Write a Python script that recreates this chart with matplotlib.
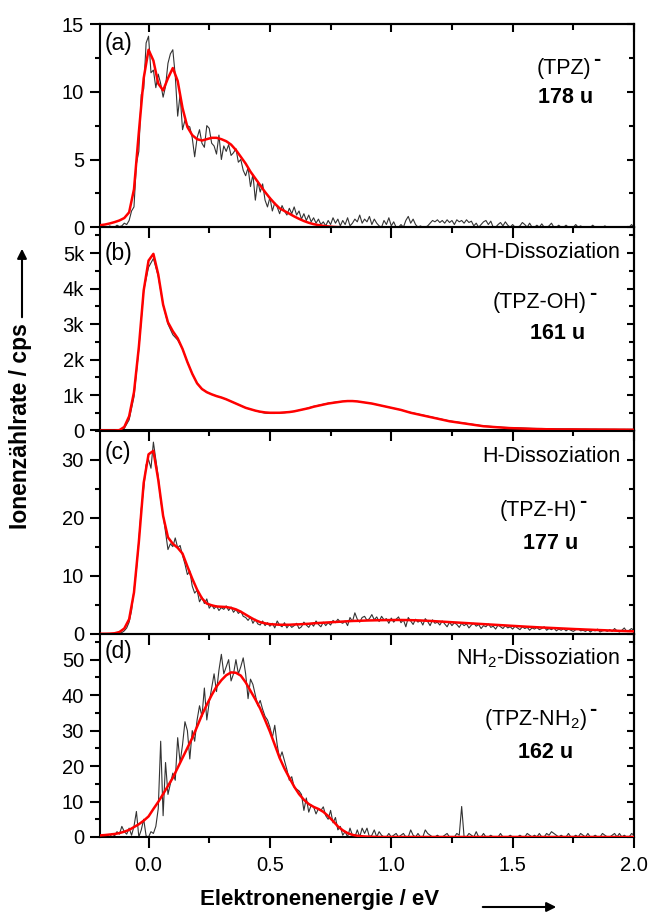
import numpy as np
import matplotlib
matplotlib.use("Agg")
import matplotlib.pyplot as plt
from matplotlib.ticker import MultipleLocator, FuncFormatter

plt.rcParams['font.family'] = ['Liberation Sans', 'DejaVu Sans']
plt.rcParams['mathtext.fontset'] = 'custom'
plt.rcParams['mathtext.rm'] = 'Liberation Sans'
plt.rcParams['mathtext.it'] = 'Liberation Sans:italic'
plt.rcParams['mathtext.bf'] = 'Liberation Sans:bold'

# ---------------- data ----------------
# measured data: energy grid -0.20 ... 2.00 eV, step 0.01 eV (221 points)
x_data = np.round(np.arange(221) * 0.01 - 0.20, 2)
# fitted curves: energy grid -0.20 ... 2.00 eV, step 0.02 eV (111 points)
x_fit = np.round(np.arange(111) * 0.02 - 0.20, 2)

data_a = [
    0, 0, 0.05, 0, 0.1, 0, 0, 0.15, 0.05, 0.1,
    0.3, 0.2, 0.5, 1.2, 1.5, 4.7, 5.6, 9.8, 10.2, 13.6,
    14.1, 11.4, 11.6, 10.3, 11.3, 10.6, 9.6, 10.4, 12.1, 12.8,
    13.1, 11.2, 8.2, 9.8, 7.2, 7.9, 7.5, 7.4, 6.6, 5.2,
    6.6, 7.2, 6.2, 5.9, 7.5, 7.3, 6.2, 6.0, 5.4, 6.8,
    5.0, 6.0, 5.6, 6.1, 5.3, 5.5, 5.8, 4.8, 5.0, 4.2,
    3.8, 4.4, 3.0, 3.9, 2.0, 3.4, 2.6, 3.2, 2.0, 1.5,
    2.2, 1.2, 1.8, 1.5, 1.0, 1.6, 1.2, 0.9, 1.4, 1.0,
    1.5, 0.9, 1.2, 0.6, 1.0, 0.5, 0.9, 0.4, 0.7, 0.3,
    0.6, 0.2, 0.4, 0.1, 0.5, 0.2, 0.7, 0.3, 0.6, 0.1,
    0.5, 0.2, 0.7, 0.1, 0.3, 0.6, 0.4, 0.9, 0.3, 0.6,
    0.4, 0.8, 0.2, 0.6, 0.3, 0.1, 0.0, 0.5, 0.2, 0.7,
    0.1, 0.4, 0.0, 0.0, 0.2, 0.0, 0.5, 0.8, 0.3, 0.6,
    0.2, 0.0, 0.1, 0.0, 0.0, 0.1, 0.3, 0.5, 0.4, 0.55,
    0.35, 0.5, 0.3, 0.55, 0.35, 0.5, 0.2, 0.55, 0.4, 0.5,
    0.3, 0.55, 0.35, 0.45, 0.1, 0.3, 0.0, 0.2, 0.4, 0.5,
    0.2, 0.45, 0.0, 0.0, 0.2, 0.35, 0.1, 0.4, 0.15, 0.0,
    0.2, 0.0, 0.0, 0.1, 0.35, 0.2, 0.0, 0.3, 0.0, 0.0,
    0.15, 0.0, 0.25, 0.0, 0.0, 0.1, 0.3, 0.0, 0.0, 0.15,
    0.0, 0.0, 0.15, 0.0, 0.0, 0.0, 0.2, 0.0, 0.1, 0.0,
    0.0, 0.0, 0.0, 0.15, 0.0, 0.0, 0.0, 0.0, 0.1, 0.0,
    0.0, 0.0, 0.0, 0.0, 0.0, 0.0, 0.0, 0.0, 0.0, 0.2,
    0.0,
]
fit_a = [
    0.15, 0.2, 0.28, 0.38, 0.5, 0.68, 1.1, 2.8, 7.0, 11.0,
    13.1, 12.3, 10.6, 10.1, 11.0, 11.75, 10.8, 8.8, 7.4, 6.8,
    6.5, 6.4, 6.5, 6.6, 6.6, 6.5, 6.35, 6.1, 5.7, 5.2,
    4.7, 4.1, 3.6, 3.1, 2.6, 2.15, 1.75, 1.4, 1.2, 1.0,
    0.8, 0.62, 0.46, 0.33, 0.23, 0.16, 0.1, 0.06, 0.03, 0.01,
] + [0.0] * 61

data_b = [
    0, 0, 0, 0, 0, 60, 300, 950, 2300, 3950,
    4600, 4850, 4350, 3550, 3000, 2700, 2550, 2300, 1930, 1600,
    1330, 1170, 1080, 1020, 970, 930, 880, 820, 760, 700,
    640, 600, 560, 520, 490, 480, 480, 490, 500, 520,
    540, 570, 600, 640, 680, 710, 740, 770, 790, 810,
    820, 830, 830, 820, 800, 780, 760, 730, 700, 670,
    640, 610, 580, 540, 510, 480, 450, 420, 390, 360,
    330, 300, 270, 250, 230, 210, 190, 170, 150, 130,
    120, 110, 100, 90, 85, 80, 75, 70, 65, 60,
    58, 55, 52, 50, 48, 46, 45, 44, 42, 40,
    40, 38, 38, 36, 36, 35, 35, 34, 34, 33,
    32,
]
fit_b = [
    0, 0, 0, 0, 10, 100, 400, 1080, 2350, 3950,
    4790, 4980, 4400, 3550, 3050, 2800, 2600, 2300, 1930, 1600,
    1330, 1170, 1080, 1020, 970, 930, 880, 820, 760, 700,
    640, 600, 560, 530, 510, 500, 500, 500, 510, 520,
    540, 570, 600, 630, 670, 700, 730, 760, 780, 800,
    820, 830, 830, 820, 800, 780, 760, 730, 700, 670,
    640, 610, 580, 540, 500, 470, 440, 410, 380, 350,
    320, 290, 260, 240, 220, 200, 180, 160, 140, 120,
    110, 100, 90, 80, 70, 65, 60, 55, 50, 45,
    40, 40, 35, 35, 30, 30, 30, 30, 30, 28,
    28, 26, 26, 25, 25, 24, 24, 22, 22, 20,
    20,
]

data_c = [
    0, 0, 0, 0, 0, 0, 0, 0, 0.1, 0.2,
    0.5, 1.0, 2.0, 4.0, 7.5, 11.0, 16.0, 21.5, 25.0, 29.1,
    30.0, 28.5, 33.0, 30.0, 27.0, 23.0, 20.5, 17.5, 14.5, 15.5,
    15.0, 16.5, 14.8, 15.2, 13.5, 12.0, 10.2, 10.8, 8.2, 7.0,
    7.5, 5.5, 6.3, 5.2, 6.0, 4.4, 5.0, 4.3, 4.8, 4.0,
    4.5, 4.2, 4.8, 4.0, 4.6, 3.7, 4.2, 3.5, 3.9, 3.0,
    2.8, 2.3, 2.9, 1.8, 2.5, 1.7, 1.5, 2.2, 1.4, 1.9,
    1.3, 1.8, 1.0, 2.2, 1.5, 1.2, 1.9, 1.0, 1.6, 1.1,
    1.4, 1.8, 0.9, 1.2, 2.0, 1.5, 1.1, 1.8, 1.3, 2.2,
    1.6, 1.2, 2.0, 1.4, 1.9, 1.5, 2.3, 1.9, 2.5, 2.0,
    1.8, 2.2, 1.4, 2.8, 2.1, 3.6, 2.5, 2.0, 2.8, 3.0,
    2.3, 2.6, 3.3, 2.4, 2.9, 2.1, 3.0, 2.4, 2.6, 1.8,
    2.7, 2.0, 2.5, 2.9, 1.9, 2.4, 1.2, 2.8, 2.2, 1.6,
    2.5, 2.0, 2.3, 1.5, 2.6, 2.1, 1.4, 2.4, 1.8, 2.0,
    1.5, 2.2, 1.7, 1.2, 2.0, 1.4, 1.9, 1.6, 1.1, 1.8,
    1.4, 1.7, 1.0, 1.5, 1.8, 1.3, 1.6, 0.9, 1.4, 1.2,
    1.7, 1.1, 1.3, 0.8, 1.5, 1.2, 0.9, 1.4, 1.0, 1.2,
    0.8, 1.3, 1.0, 0.7, 1.2, 0.9, 1.1, 0.6, 1.0, 0.8,
    1.1, 0.7, 0.9, 1.2, 0.6, 0.9, 0.7, 1.0, 0.5, 0.8,
    0.6, 0.9, 0.5, 0.8, 0.6, 0.4, 0.7, 0.9, 0.5, 0.6,
    0.4, 0.7, 0.3, 0.6, 0.5, 0.8, 0.3, 0.5, 0.6, 0.4,
    0.7, 0.4, 0.9, 0.5, 0.3, 0.6, 1.0, 0.4, 0.6, 0.9,
    0.5,
]
fit_c = [
    0, 0, 0.02, 0.08, 0.3, 0.9, 2.5, 7.1, 15.8, 26.0,
    30.9, 31.5, 26.5, 20.3, 16.6, 15.5, 14.8, 13.8, 11.6, 9.5,
    7.6, 6.1, 5.2, 4.9, 4.7, 4.65, 4.6, 4.45, 4.2, 3.8,
    3.3, 2.8, 2.35, 2.0, 1.8, 1.65, 1.6, 1.55, 1.55, 1.55,
    1.6, 1.62, 1.68, 1.72, 1.8, 1.85, 1.9, 1.95, 2.0, 2.05,
    2.1, 2.15, 2.2, 2.22, 2.25, 2.28, 2.3, 2.32, 2.34, 2.35,
    2.36, 2.37, 2.37, 2.36, 2.34, 2.32, 2.29, 2.25, 2.21, 2.16,
    2.11, 2.06, 2.01, 1.96, 1.91, 1.86, 1.81, 1.76, 1.71, 1.66,
    1.61, 1.56, 1.51, 1.46, 1.41, 1.36, 1.31, 1.26, 1.21, 1.17,
    1.12, 1.08, 1.04, 1.0, 0.96, 0.92, 0.88, 0.84, 0.8, 0.77,
    0.73, 0.7, 0.66, 0.63, 0.6, 0.56, 0.53, 0.5, 0.47, 0.44,
    0.41,
]

data_d = [
    0, 0.2, 0, 0.5, 0, 1.0, 0.3, 1.5, 0.8, 3.0,
    1.5, 0.8, 2.5, 0.5, 3.0, 7.2, 0.0, 2.0, 5.0, 0.3,
    0.0, 1.5, 1.0, 3.0, 8.0, 27.0, 6.0, 21.0, 12.0, 15.0,
    18.0, 16.0, 28.0, 21.0, 26.0, 32.5, 30.0, 22.0, 30.0, 27.0,
    33.0, 37.0, 34.0, 42.0, 33.0, 38.0, 42.0, 46.0, 41.0, 47.0,
    51.5, 46.0, 48.0, 50.0, 44.0, 46.0, 50.0, 46.0, 48.0, 50.5,
    46.0, 39.0, 44.5, 43.0, 40.0, 37.0, 38.5, 36.0, 34.0, 33.0,
    31.0, 28.0, 31.5, 26.0, 22.0, 24.0, 21.5, 19.0, 16.0, 17.0,
    14.0, 13.5, 13.0, 12.0, 7.5, 11.0, 7.0, 9.0, 8.5, 6.5,
    8.0, 7.5, 8.5, 6.0, 5.0, 7.5, 4.0, 5.5, 2.0, 3.0,
    0.5, 1.5, 0.0, 2.5, 0.5, 0.0, 2.0, 0.0, 2.5, 1.0,
    2.5, 0.0, 0.5, 2.0, 0.0, 1.5, 0.5, 0.0, 0.0, 1.0,
    0.0, 0.5, 1.0, 0.0, 0.5, 1.0, 0.0, 0.0, 2.0, 0.5,
    0.0, 1.0, 0.0, 0.0, 2.0, 1.0, 0.5, 0.0, 0.0, 0.5,
    0.0, 0.0, 0.5, 1.0, 0.0, 0.0, 0.0, 1.0, 0.5, 8.6,
    0.0, 0.0, 1.0, 0.5, 0.0, 1.5, 0.0, 0.0, 1.0, 0.0,
    0.0, 0.5, 0.0, 0.0, 0.0, 1.0, 0.0, 0.0, 0.0, 0.5,
    0.0, 0.0, 0.0, 0.5, 0.0, 0.0, 1.0, 0.5, 0.0, 0.5,
    0.0, 1.0, 0.0, 0.0, 1.0, 0.5, 1.5, 1.0, 0.5, 0.0,
    0.5, 0.0, 0.0, 1.0, 0.0, 0.0, 0.5, 0.0, 1.0, 0.5,
    0.0, 1.0, 0.0, 0.0, 0.5, 0.0, 0.0, 1.0, 0.5, 0.0,
    0.0, 0.5, 1.0, 0.0, 1.0, 0.0, 0.5, 0.0, 0.0, 1.0,
    0.5,
]
fit_d = [
    0.45, 0.55, 0.7, 0.85, 1.1, 1.5, 2.0, 2.8, 3.6, 4.6,
    5.8, 7.9, 9.9, 12.1, 14.4, 16.7, 19.5, 22.3, 25.1, 27.9,
    31.1, 34.4, 37.3, 40.0, 42.4, 44.2, 45.6, 46.4, 46.3, 45.5,
    43.6, 41.2, 38.8, 36.2, 33.0, 29.7, 26.0, 22.3, 19.3, 16.7,
    14.2, 12.1, 10.5, 9.3, 8.5, 7.9, 7.1, 5.9, 4.5, 3.0,
    1.9, 1.1, 0.6, 0.35, 0.2, 0.1, 0.05, 0.02,
] + [0.0] * 53

panel_letters = ["(a)", "(b)", "(c)", "(d)"]
channel_labels = [None, "OH-Dissoziation", "H-Dissoziation", r"NH$_\mathrm{2}$-Dissoziation"]
ion_labels = ["(TPZ)", "(TPZ-OH)", "(TPZ-H)", r"(TPZ-NH$_\mathrm{2}$)"]
mass_labels = ["178 u", "161 u", "177 u", "162 u"]
y_limits = [15, 5730, 35, 57.3]
y_major = [5, 1000, 10, 10]
y_minor = [2.5, 500, 5, 5]
x_label = "Elektronenenergie / eV"
y_label = "Ionenzählrate / cps"

# layout positions (axes fractions)
letter_y = [0.906, 0.872, 0.894, 0.915]
channel_y = [None, 0.877, 0.870, 0.880]
ion_xy = [(0.868, 0.783), (0.824, 0.632), (0.820, 0.608), (0.816, 0.576)]
mass_xy = [(0.871, 0.640), (0.856, 0.479), (0.843, 0.446), (0.834, 0.414)]

# ---------------- figure ----------------
fig = plt.figure(figsize=(6.5, 9.15), dpi=100)
left, right = 100 / 650, 634 / 650
bottom, top = 1 - 837 / 915, 1 - 24 / 915
h = (top - bottom) / 4

datasets = [(x_data, data_a, fit_a), (x_fit, data_b, fit_b),
            (x_data, data_c, fit_c), (x_data, data_d, fit_d)]

LW = 1.5
for i in range(4):
    ax = fig.add_axes([left, bottom + (3 - i) * h, right - left, h])
    ax.patch.set_visible(False)
    xd, yd, yf = datasets[i]
    ax.plot(xd, yd, color='#333333', lw=0.8, zorder=2)
    ax.plot(x_fit, yf, color='#ff0000', lw=1.8, zorder=3)
    ax.set_xlim(-0.2, 2.0)
    ax.set_ylim(0, y_limits[i])
    for s in ax.spines.values():
        s.set_linewidth(LW)
    ax.xaxis.set_major_locator(MultipleLocator(0.5))
    ax.xaxis.set_minor_locator(MultipleLocator(0.25))
    ax.yaxis.set_major_locator(MultipleLocator(y_major[i]))
    ax.yaxis.set_minor_locator(MultipleLocator(y_minor[i]))
    ax.tick_params(axis='x', which='both', direction='out', top=False,
                   width=LW, labelsize=14.5, pad=6)
    ax.tick_params(axis='x', which='major', length=8)
    ax.tick_params(axis='x', which='minor', length=4)
    ax.tick_params(axis='y', which='both', direction='out', right=False,
                   width=LW, labelsize=14.5, pad=4)
    ax.tick_params(axis='y', which='major', length=7.5)
    ax.tick_params(axis='y', which='minor', length=3.5)
    if i < 3:
        ax.tick_params(axis='x', labelbottom=False)
    else:
        ax.xaxis.set_major_formatter(FuncFormatter(lambda v, p: f"{v:.1f}"))
    if i == 1:
        ax.yaxis.set_major_formatter(FuncFormatter(
            lambda v, p: "0" if abs(v) < 1e-9 else f"{int(round(v / 1000))}k"))

    # right axis ticks pointing inward
    sec = ax.secondary_yaxis('right')
    sec.yaxis.set_major_locator(MultipleLocator(y_major[i]))
    sec.yaxis.set_minor_locator(MultipleLocator(y_minor[i]))
    sec.tick_params(which='both', direction='in', labelright=False, width=LW)
    sec.tick_params(which='major', length=5)
    sec.tick_params(which='minor', length=3.5)
    sec.spines['right'].set_linewidth(LW)

    if i == 0:
        sect = ax.secondary_xaxis('top')
        sect.xaxis.set_major_locator(MultipleLocator(0.5))
        sect.xaxis.set_minor_locator(MultipleLocator(0.25))
        sect.tick_params(which='both', direction='in', labeltop=False, width=LW)
        sect.tick_params(which='major', length=6)
        sect.tick_params(which='minor', length=4)
        sect.spines['top'].set_linewidth(LW)

    # annotations
    ax.text(0.008, letter_y[i], panel_letters[i], transform=ax.transAxes,
            ha='left', va='center', fontsize=16.5)
    if channel_labels[i] is not None:
        ax.text(0.974, channel_y[i], channel_labels[i], transform=ax.transAxes,
                ha='right', va='center', fontsize=15.5)
    t = ax.text(ion_xy[i][0], ion_xy[i][1], ion_labels[i], transform=ax.transAxes,
                ha='center', va='center', fontsize=15.5)
    ax.annotate('-', xy=(1.0, 1.0), xycoords=t, xytext=(1.5, -1.5),
                textcoords='offset points', ha='left', va='center',
                fontsize=15.5, fontweight='bold')
    ax.text(mass_xy[i][0], mass_xy[i][1], mass_labels[i], transform=ax.transAxes,
            ha='center', va='center', fontsize=15.5, fontweight='bold')

# axis labels with arrows
fig.text(0.032, 1 - 426 / 915, y_label, rotation=90, ha='center', va='center',
         fontsize=16.5, fontweight='bold')
fig.text(320 / 650, 1 - 905 / 915, x_label, ha='center', va='baseline',
         fontsize=16, fontweight='bold')
fig.add_artist(matplotlib.patches.FancyArrowPatch(
    (22 / 650, 1 - 320 / 915), (22 / 650, 1 - 246 / 915),
    transform=fig.transFigure, arrowstyle='-|>', mutation_scale=14,
    lw=1.5, color='black'))
fig.add_artist(matplotlib.patches.FancyArrowPatch(
    (480 / 650, 1 - 907 / 915), (559 / 650, 1 - 907 / 915),
    transform=fig.transFigure, arrowstyle='-|>', mutation_scale=14,
    lw=1.5, color='black'))

fig.savefig("out.png", dpi=100)
